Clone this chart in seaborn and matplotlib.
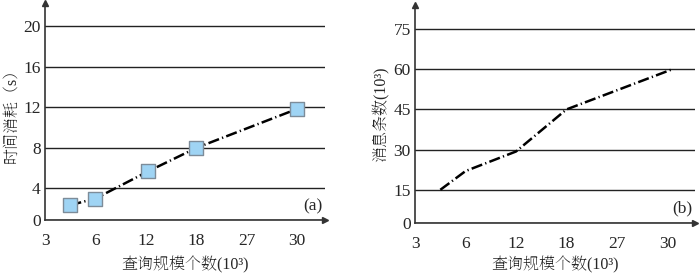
import matplotlib
matplotlib.use("Agg")
import matplotlib.pyplot as plt
import seaborn as sns
import pandas as pd

# x axis: labelled ticks sit on every other slot of an evenly spaced axis
x_label_pos = [0, 2, 4, 6, 8, 10]
x_labels = ["3", "6", "12", "18", "27", "30"]
x_minor_pos = [1, 3, 5, 7, 9]

# (a) time cost
time_x = [1, 2, 4.1, 6, 10]
time_s = [2.35, 3.0, 5.7, 8.0, 11.85]
time_yticks = [4, 8, 12, 16, 20]

# (b) number of messages
msg_x = [1, 2, 4, 6, 10.2]
msg_k = [15, 22, 29.3, 45, 60]
msg_yticks = [15, 30, 45, 60, 75]

sns.set_style("white")
plt.rcParams["font.family"] = ["Liberation Serif", "Noto Serif SC"]
plt.rcParams["font.size"] = 11

DASH = (0, (4.5, 1.3, 0.5, 1.3))
AXC = "#333333"


def style_axis(ax, ybot, ytop, yticks, panel, xlab_y):
    ax.set_xlim(0, 11.1)
    ax.set_ylim(ybot, ytop)
    # bottom gridline doubles as the x axis, labelled "0"
    ax.set_yticks([ybot] + yticks)
    ax.set_yticklabels(["0"] + [str(t) for t in yticks])
    ax.yaxis.grid(True, color="#222222", lw=1.0)
    ax.xaxis.grid(False)
    ax.set_axisbelow(True)
    ax.tick_params(axis="y", length=0, pad=3, labelsize=12.5)
    ax.set_xticks(x_label_pos)
    ax.set_xticklabels(x_labels)
    ax.set_xticks(x_minor_pos, minor=True)
    ax.tick_params(axis="x", which="both", direction="in", length=5,
                   width=1, color=AXC, pad=9, labelsize=12.5)
    for s in ["top", "right"]:
        ax.spines[s].set_visible(False)
    for s in ["left", "bottom"]:
        ax.spines[s].set_color(AXC)
        ax.spines[s].set_linewidth(1.2)
    ax.plot(1, ybot, ">", color=AXC, ms=5,
            transform=ax.get_yaxis_transform(), clip_on=False)
    ax.plot(0, 1, "^", color=AXC, ms=5,
            transform=ax.get_xaxis_transform(), clip_on=False)
    ax.text(0.955, 0.065, panel, transform=ax.transAxes, ha="center",
            va="center", fontsize=12.5)
    ax.set_xlabel("查询规模个数(10³)", fontsize=11.5)
    ax.xaxis.label.set_va("center")
    ax.xaxis.set_label_coords(0.5, xlab_y)


fig = plt.figure(figsize=(7, 2.74), dpi=100)
ax1 = fig.add_axes([0.0643, 0.197, 0.4, 0.792])
ax2 = fig.add_axes([0.593, 0.186, 0.4, 0.796])

df_a = pd.DataFrame({"x": time_x, "y": time_s})
sns.lineplot(data=df_a, x="x", y="y", ax=ax1, color="black", lw=1.8,
             linestyle=DASH, zorder=3)
sns.scatterplot(data=df_a, x="x", y="y", ax=ax1, marker="s", s=95,
                color="#9fd4f4", edgecolor="#7d8c99", linewidth=1,
                zorder=4)
style_axis(ax1, 0.88, 22.3, time_yticks, "(a)", -0.207)
ax1.set_ylabel("时间消耗（s）", fontsize=11.5, labelpad=3)

df_b = pd.DataFrame({"x": msg_x, "y": msg_k})
sns.lineplot(data=df_b, x="x", y="y", ax=ax2, color="black", lw=1.8,
             linestyle=DASH, zorder=3)
style_axis(ax2, 2.6, 84, msg_yticks, "(b)", -0.193)
ax2.set_ylabel("消息条数(10³)", fontsize=11.5, labelpad=3)

fig.savefig("out.png", dpi=100)
